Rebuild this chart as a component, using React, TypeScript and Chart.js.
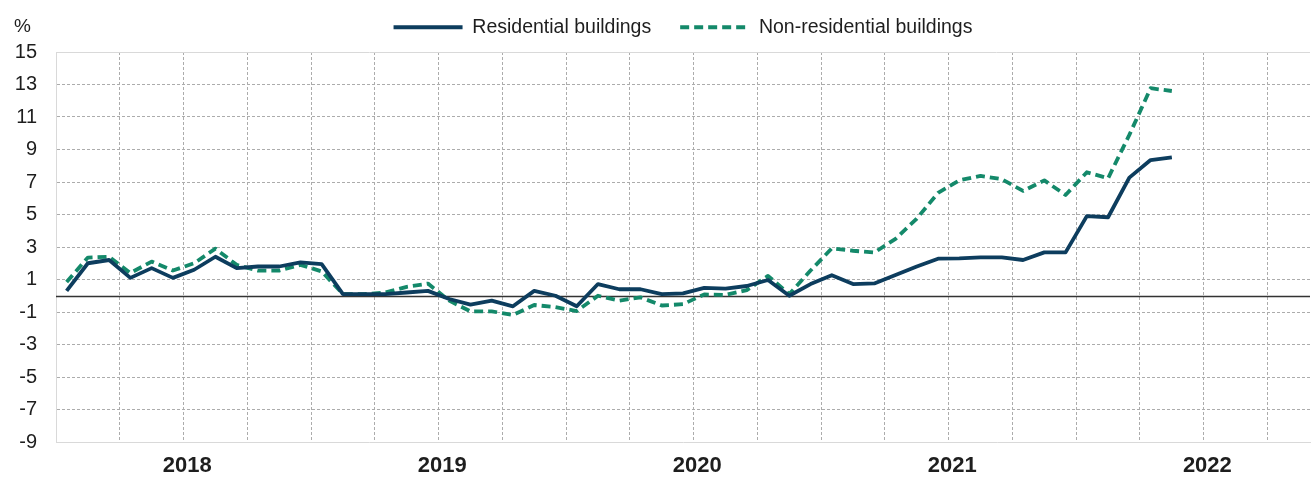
import React, { useEffect, useRef } from 'react';
import { Chart, registerables } from 'chart.js';

Chart.register(...registerables);

const years = ['2018', '2019', '2020', '2021', '2022'];
const monthNames = ['Jan', 'Feb', 'Mar', 'Apr', 'May', 'Jun', 'Jul', 'Aug', 'Sep', 'Oct', 'Nov', 'Dec'];
const categories = years.flatMap((y) => monthNames.map((m) => `${m} ${y}`)).slice(0, 59);

const residential = [
  0.3, 2.0, 2.2, 1.1, 1.7, 1.1, 1.6, 2.4, 1.7, 1.8, 1.8, 2.05,
  1.95, 0.1, 0.1, 0.1, 0.2, 0.3, -0.2, -0.55, -0.3, -0.65, 0.3, 0.0,
  -0.65, 0.72, 0.4, 0.4, 0.1, 0.15, 0.48, 0.44, 0.6, 0.97, 0.0, 0.72,
  1.26, 0.72, 0.76, 1.28, 1.8, 2.28, 2.3, 2.36, 2.36, 2.2, 2.67, 2.67,
  4.9, 4.83, 7.27, 8.35, 8.52,
];

const nonResidential = [
  0.85, 2.35, 2.4, 1.4, 2.1, 1.55, 2.0, 2.9, 1.9, 1.55, 1.55, 1.9,
  1.5, 0.1, 0.1, 0.2, 0.55, 0.75, -0.3, -0.96, -0.96, -1.18, -0.57, -0.7,
  -0.94, 0.0, -0.3, -0.1, -0.6, -0.52, 0.08, 0.05, 0.35, 1.22, 0.1, 1.55,
  2.92, 2.77, 2.66, 3.5, 4.75, 6.33, 7.1, 7.38, 7.17, 6.45, 7.1, 6.2,
  7.6, 7.23, 9.9, 12.77, 12.6,
];

const seriesNames = ['Residential buildings', 'Non-residential buildings'];
const yMin = -9;
const yMax = 15;
const yStep = 2;

const FONT = "'Liberation Sans', Arial, sans-serif";
const NAVY = '#0d3d5e';
const GREEN = '#14896a';
const GRID = '#acacac';
const FRAME = '#d9d9d9';
const TEXT = '#1e1e1e';
const LINE_W = 3.8;

const LEGEND_HEIGHT = 52;
const LEGEND_TOP = -11.5;

const chartTweaks = {
  id: 'chartTweaks',
  beforeLayout(chart: any) {
    const lg = chart.legend;
    if (lg && !lg.__patched) {
      const fit = lg.fit.bind(lg);
      lg.fit = function () {
        fit();
        this.height = LEGEND_HEIGHT;
      };
      lg.__patched = true;
    }
  },
  afterLayout(chart: any) {
    const lg = chart.legend;
    if (lg) {
      const dy = LEGEND_TOP - lg.top;
      lg.top += dy;
      lg.bottom += dy;
    }
  },
  beforeDatasetsDraw(chart: any) {
    const { ctx, chartArea: a, scales } = chart;
    ctx.save();
    ctx.strokeStyle = FRAME;
    ctx.lineWidth = 1;
    ctx.beginPath();
    ctx.moveTo(a.left, Math.round(a.top) + 0.5);
    ctx.lineTo(a.right, Math.round(a.top) + 0.5);
    ctx.stroke();
    const y0 = Math.round(scales.y.getPixelForValue(0)) + 0.5;
    ctx.strokeStyle = '#333333';
    ctx.lineWidth = 1.4;
    ctx.beginPath();
    ctx.moveTo(a.left, y0);
    ctx.lineTo(a.right, y0);
    ctx.stroke();
    ctx.restore();
  },
  afterDraw(chart: any) {
    const { ctx } = chart;
    ctx.save();
    ctx.fillStyle = TEXT;
    ctx.font = `19px ${FONT}`;
    ctx.textBaseline = 'alphabetic';
    ctx.textAlign = 'left';
    ctx.fillText('%', 14, 32);
    ctx.restore();
  },
};

export default function App() {
  const ref = useRef<HTMLCanvasElement | null>(null);

  useEffect(() => {
    document.body.style.margin = '0';
    if (!ref.current) return;
    const chart = new Chart(ref.current, {
      type: 'line',
      data: {
        labels: categories,
        datasets: [
          {
            label: seriesNames[0],
            data: residential,
            borderColor: NAVY,
            backgroundColor: NAVY,
            borderWidth: LINE_W,
            pointRadius: 0,
            tension: 0,
            fill: false,
            borderJoinStyle: 'round',
          },
          {
            label: seriesNames[1],
            data: nonResidential,
            borderColor: GREEN,
            backgroundColor: GREEN,
            borderWidth: LINE_W,
            borderDash: [9, 5],
            pointRadius: 0,
            tension: 0,
            fill: false,
            borderJoinStyle: 'round',
          },
        ],
      },
      options: {
        animation: false,
        responsive: false,
        devicePixelRatio: 1,
        layout: { padding: { left: 0, right: 3, top: 0, bottom: 0 } },
        plugins: {
          legend: {
            position: 'top',
            fullSize: false,
            labels: {
              usePointStyle: true,
              pointStyle: 'line',
              pointStyleWidth: 69,
              padding: 29,
              color: TEXT,
              font: { family: FONT, size: 19.5 },
              generateLabels: (c: any) =>
                (Chart.defaults.plugins.legend.labels as any).generateLabels(c).map((item: any, i: number) => {
                  const ds = c.data.datasets[i];
                  return {
                    ...item,
                    strokeStyle: ds.borderColor,
                    fillStyle: ds.borderColor,
                    lineWidth: LINE_W,
                    lineDash: ds.borderDash || [],
                    pointStyle: 'line',
                  };
                }),
            },
          },
          tooltip: { enabled: false },
        },
        scales: {
          x: {
            type: 'category',
            offset: true,
            afterFit: (s: any) => {
              s.height = 36;
            },
            grid: {
              offset: true,
              drawTicks: false,
              lineWidth: 1,
              color: (c: any) => (c.index % 3 === 0 && c.index !== 0 ? GRID : 'rgba(0,0,0,0)'),
            },
            border: { display: true, color: FRAME, width: 1, dash: [3, 2] },
            ticks: {
              autoSkip: false,
              maxRotation: 0,
              minRotation: 0,
              padding: 11,
              labelOffset: -7,
              color: TEXT,
              font: { family: FONT, size: 22, weight: 'bold' },
              callback: (_v: any, i: number) => (i % 12 === 6 ? years[Math.floor(i / 12)] : ''),
            },
          },
          y: {
            min: yMin,
            max: yMax,
            afterFit: (s: any) => {
              s.width = 56;
            },
            grid: {
              drawTicks: false,
              lineWidth: 1,
              color: (c: any) =>
                c.tick && (c.tick.value === yMin || c.tick.value === yMax) ? 'rgba(0,0,0,0)' : GRID,
            },
            border: { display: true, color: FRAME, width: 1, dash: [3, 2] },
            ticks: {
              stepSize: yStep,
              padding: 19,
              color: TEXT,
              font: { family: FONT, size: 20 },
            },
          },
        },
      },
      plugins: [chartTweaks],
    } as any);
    return () => chart.destroy();
  }, []);

  return (
    <div style={{ width: 1313, height: 478 }}>
      <canvas ref={ref} width={1313} height={478} style={{ display: 'block' }} />
    </div>
  );
}
